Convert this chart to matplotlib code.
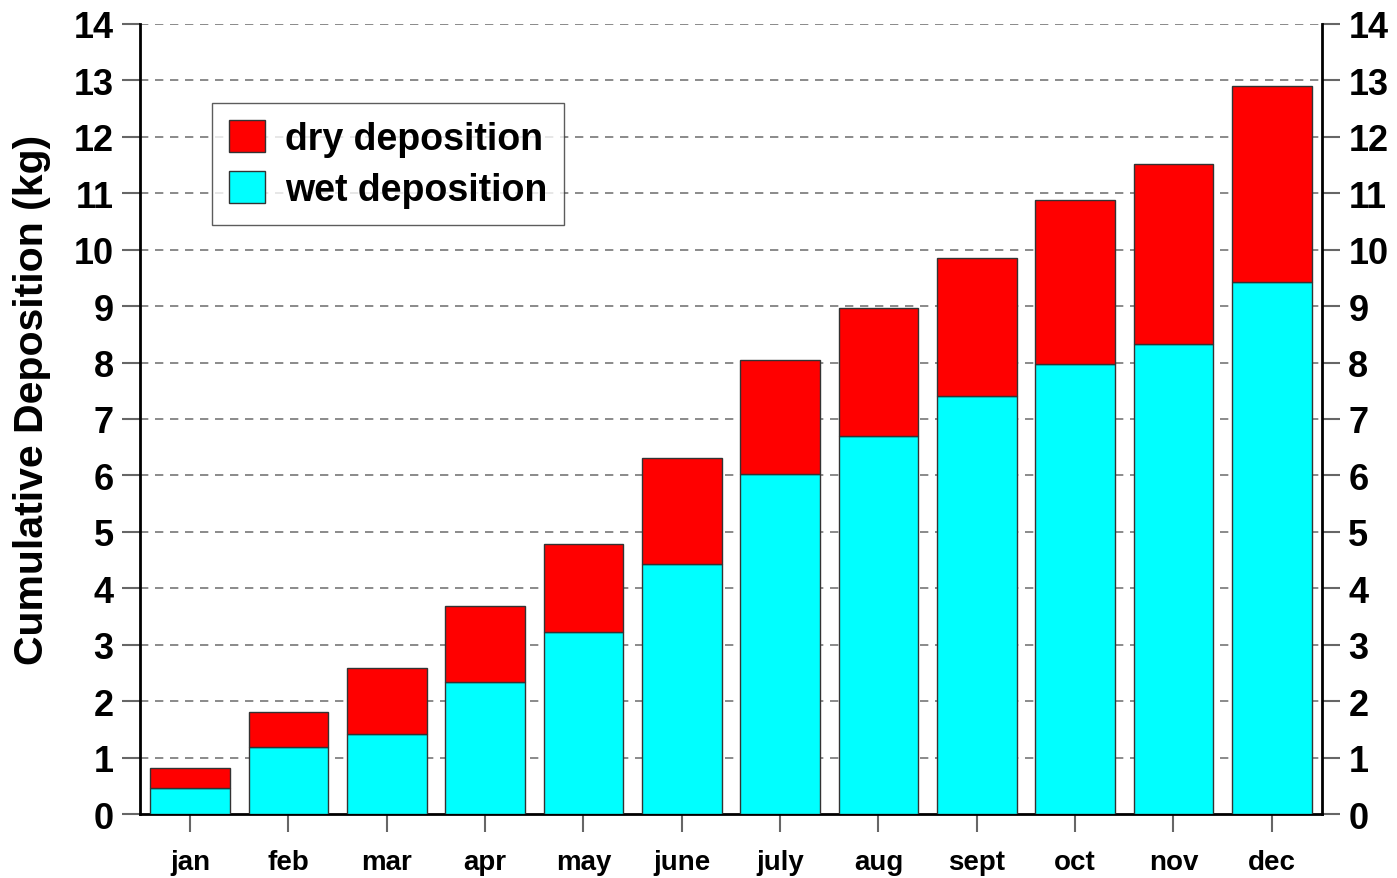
import matplotlib
matplotlib.use("Agg")
import matplotlib.pyplot as plt
import numpy as np

# monthly cumulative deposition (kg)
months = ['jan', 'feb', 'mar', 'apr', 'may', 'june', 'july', 'aug', 'sept', 'oct', 'nov', 'dec']
wet = [0.46, 1.19, 1.42, 2.34, 3.23, 4.43, 6.03, 6.70, 7.41, 7.97, 8.33, 9.43]
total = [0.82, 1.81, 2.59, 3.69, 4.78, 6.31, 8.05, 8.97, 9.85, 10.88, 11.52, 12.90]
dry = [t - w for t, w in zip(total, wet)]
yticks = list(range(0, 15))

plt.rcParams['font.family'] = ['Liberation Sans', 'DejaVu Sans']
plt.rcParams['font.weight'] = 'bold'

fig = plt.figure(figsize=(13.97, 8.79), dpi=100)
ax = fig.add_axes([0.1002, 0.0728, 0.8461, 0.8988])

x = np.arange(len(months))
ax.bar(x, wet, width=0.81, color='#00ffff', edgecolor='#333333', linewidth=1, label='wet deposition', zorder=3)
ax.bar(x, dry, width=0.81, bottom=wet, color='#ff0000', edgecolor='#333333', linewidth=1, label='dry deposition', zorder=3)

ax.set_xlim(-0.51, 11.51)
ax.set_ylim(0, 14)
ax.set_xticks(x)
ax.set_xticklabels(months, fontsize=20, fontweight='bold')
ax.set_yticks(yticks)
ax.set_yticklabels([str(v) for v in yticks], fontsize=26, fontweight='bold')

for v in yticks[1:]:
    ax.axhline(v, color='#777777', linestyle=(0, (5, 4)), linewidth=1.2, zorder=1)

ax.tick_params(axis='y', which='both', direction='out', length=13, width=1.5, color='#666666',
               left=True, right=True, labelleft=True, labelright=True, pad=6)
ax.tick_params(axis='x', direction='out', length=13, width=1.5, color='#666666', pad=12)

ax.spines['top'].set_visible(False)
for s in ['left', 'right', 'bottom']:
    ax.spines[s].set_linewidth(2)
    ax.spines[s].set_color('black')

ax.set_ylabel('Cumulative Deposition (kg)', fontsize=29.5, fontweight='bold', va='center')
ax.yaxis.set_label_coords(-0.0914, 0.525)

handles, labels = ax.get_legend_handles_labels()
leg = ax.legend(handles[::-1], labels[::-1], loc='upper left', bbox_to_anchor=(0.061, 0.90),
                fontsize=27, frameon=True, fancybox=False, edgecolor='#333333',
                handlelength=0.95, handleheight=0.95, handletextpad=0.55, borderpad=0.45,
                labelspacing=0.38, borderaxespad=0)
leg.get_frame().set_linewidth(1)
for t in leg.get_texts():
    t.set_fontweight('bold')

fig.savefig('out.png', dpi=100)
